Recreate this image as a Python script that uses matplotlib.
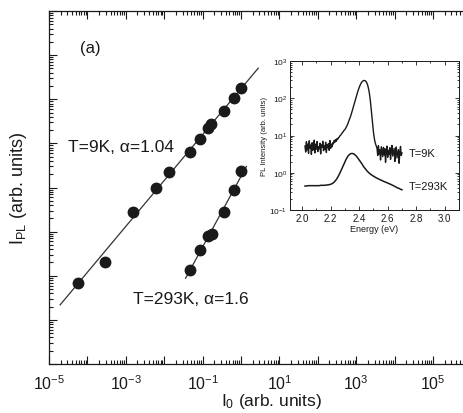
import numpy as np
import matplotlib
matplotlib.use("Agg")
import matplotlib.pyplot as plt
from matplotlib.ticker import FixedLocator, FuncFormatter, LogLocator, NullFormatter, MultipleLocator

plt.rcParams["font.family"] = ["Liberation Sans", "DejaVu Sans"]
plt.rcParams["mathtext.fontset"] = "custom"
plt.rcParams["mathtext.rm"] = "Liberation Sans"
plt.rcParams["mathtext.default"] = "regular"

# excitation power dependence (arb. units)
i0_9k = [5.6e-5, 2.8e-4, 1.5e-3, 6.0e-3, 1.3e-2, 4.6e-2, 8.3e-2, 0.135, 0.17, 0.355, 0.65, 1.02]
ipl_9k = [69, 204, 2.8e3, 1.0e4, 2.2e4, 6.5e4, 1.26e5, 2.24e5, 2.75e5, 5.5e5, 1.07e6, 1.82e6]
i0_293k = [0.046, 0.083, 0.135, 0.18, 0.37, 0.65, 1.02]
ipl_293k = [135, 390, 790, 890, 2.8e3, 8.9e3, 2.4e4]
alpha_9k = 1.04
alpha_293k = 1.6
fit_range_9k = [1.95e-5, 2.8]
fit_range_293k = [0.036, 1.38]

# PL spectra for the inset
e_start_9k, e_step_9k = 2.020, 0.005
spec_9k = [
    5.2, 3.6, 6.8, 4.1, 5.9, 3.3, 7.2, 4.6, 5.5, 3.1,
    6.4, 4.0, 5.1, 7.5, 3.4, 5.8, 4.3, 6.9, 3.7, 5.0,
    4.4, 6.2, 3.2, 5.6, 4.8, 7.0, 3.9, 5.3, 4.2, 6.6,
    3.5, 5.7, 4.7, 6.1, 4.0, 7.3, 4.5, 5.9, 5.0, 6.4,
    6.0, 7.4, 6.6, 7.8, 7.0, 8.3, 7.9, 8.8, 9.0, 9.8,
    10.2, 10.9, 11.5, 12.3, 13.0, 13.9, 14.5, 15.5, 16.8, 18.5,
    20.5, 23, 26, 29, 33, 38, 44, 52, 60, 70,
    81, 95, 112, 130, 150, 172, 195, 218, 240, 260,
    276, 288, 296, 300, 298, 290, 275, 252, 222, 185,
    148, 110, 75, 48, 30, 19, 12.5, 9.0, 7.0, 5.9,
    5.2,
    4.6, 2.9, 5.3, 3.2, 4.1, 2.2, 5.0, 3.6, 2.7, 4.8,
    3.0, 4.4, 1.9, 3.8, 5.2, 2.6, 4.0, 3.1, 4.7, 2.3,
    3.9, 5.4, 2.8, 3.5, 4.5, 2.0, 3.7, 4.9, 2.5, 3.3,
    4.2, 1.8, 3.6, 5.1, 2.9, 3.4,
]
e_start_293k, e_step_293k = 2.02, 0.01
spec_293k = [
    .44, .44, .45, .45, .45, .45, .45, .45, .45, .45,
    .45, .46, .46, .46, .46, .47, .47, .48, .49,
    .51, .54, .59, .66, .76, .90, 1.08, 1.32, 1.6, 1.95,
    2.35, 2.75, 3.05, 3.25, 3.3, 3.25, 3.05, 2.8, 2.5, 2.2,
    1.95, 1.72, 1.48, 1.32, 1.18, 1.07, .98, .91, .86, .81,
    .77, .73, .70, .67, .64, .62, .59, .57, .55, .53,
    .51, .49, .47, .45, .43, .41, .39, .38, .36, .35,
]
e_9k = np.round(e_start_9k + e_step_9k * np.arange(len(spec_9k)), 3)
e_293k = np.round(e_start_293k + e_step_293k * np.arange(len(spec_293k)), 3)

ink = "#1a1a1a"


def power_fit(x, y, alpha, xr):
    # fixed slope in log-log, intercept from the mean of the points
    lx, ly = np.log10(x), np.log10(y)
    b = np.mean(ly) - alpha * np.mean(lx)
    xs = np.array(xr)
    return xs, 10 ** (b + alpha * np.log10(xs))


fig = plt.figure(figsize=(4.64, 4.14), dpi=100)
ax = fig.add_axes([49 / 464, 49 / 414, 422.5 / 464, 353 / 414])

for x, y, a, xr in [(i0_9k, ipl_9k, alpha_9k, fit_range_9k),
                    (i0_293k, ipl_293k, alpha_293k, fit_range_293k)]:
    fx, fy = power_fit(x, y, a, xr)
    ax.plot(fx, fy, color="#333333", lw=0.9, zorder=2)
    ax.plot(x, y, "o", color=ink, ms=7.5, zorder=3)

ax.set_xscale("log")
ax.set_yscale("log")
ax.set_xlim(1e-5, 1e6)
ax.set_ylim(1e0, 1e8)

ax.xaxis.set_major_locator(FixedLocator([10.0 ** k for k in range(-5, 7)]))
ax.xaxis.set_major_formatter(FuncFormatter(
    lambda v, p: rf"$10^{{{int(round(np.log10(v)))}}}$" if int(round(np.log10(v))) % 2 else ""))
ax.xaxis.set_minor_locator(LogLocator(base=10, subs=np.arange(2, 10), numticks=100))
ax.xaxis.set_minor_formatter(NullFormatter())
ax.yaxis.set_major_locator(FixedLocator([10.0 ** k for k in range(0, 9)]))
ax.yaxis.set_minor_locator(LogLocator(base=10, subs=np.arange(2, 10), numticks=100))
ax.yaxis.set_major_formatter(NullFormatter())
ax.yaxis.set_minor_formatter(NullFormatter())
ax.tick_params(which="both", direction="in", top=True, right=True, color=ink, width=0.8)
ax.tick_params(which="major", length=6, labelsize=11.5, pad=7, labelcolor=ink)
ax.tick_params(which="minor", length=3)
for s in ax.spines.values():
    s.set_color(ink)
    s.set_linewidth(0.9)

ax.set_xlabel("I$_0$ (arb. units)", fontsize=12.5, color=ink, labelpad=1)
ax.xaxis.set_label_coords(223 / 422.5, -27 / 353)
ax.set_ylabel("I$_{PL}$ (arb. units)", fontsize=13, color=ink)
ax.yaxis.set_label_coords(-20 / 422.5, 0.5)

ax.text(80 / 464, 1 - 48 / 414, "(a)", transform=fig.transFigure, fontsize=12,
        va="center", ha="left", color=ink)
ax.text(68 / 464, 1 - 148 / 414, f"T=9K, α={alpha_9k}", transform=fig.transFigure,
        fontsize=12.5, va="center", ha="left", color=ink)
ax.text(133 / 464, 1 - 300 / 414, f"T=293K, α={alpha_293k}", transform=fig.transFigure,
        fontsize=12.5, va="center", ha="left", color=ink)

# inset: PL spectra
ins = fig.add_axes([290 / 464, 1 - 211 / 414, 169 / 464, 149 / 414])
ins.plot(e_9k, spec_9k, color=ink, lw=1.0)
ins.plot(e_293k, spec_293k, color=ink, lw=1.1)
ins.set_yscale("log")
ins.set_xlim(1.915, 3.1)
ins.set_ylim(0.1, 1000)
ins.xaxis.set_major_locator(MultipleLocator(0.2))
ins.xaxis.set_minor_locator(MultipleLocator(0.1))
ins.xaxis.set_major_formatter(FuncFormatter(lambda v, p: f"{v:.1f}"))
ins.yaxis.set_major_locator(FixedLocator([0.1, 1, 10, 100, 1000]))
ins.yaxis.set_minor_locator(LogLocator(base=10, subs=np.arange(2, 10), numticks=100))
ins.yaxis.set_minor_formatter(NullFormatter())
ins.tick_params(which="both", direction="in", top=True, right=True, color=ink, width=0.6)
ins.tick_params(which="major", length=3, labelsize=7, pad=2, labelcolor=ink)
ins.tick_params(axis="y", which="major", labelsize=6)
ins.tick_params(which="minor", length=1.5)
for s in ins.spines.values():
    s.set_color(ink)
    s.set_linewidth(0.7)
ins.set_xlabel("Energy (eV)", fontsize=6.5, color=ink, labelpad=1)
ins.set_ylabel("PL Intensity (arb. units)", fontsize=5.5, color=ink, labelpad=1)
ins.text(2.745, 3.3, "T=9K", fontsize=8, va="center", ha="left", color=ink)
ins.text(2.745, 0.45, "T=293K", fontsize=8, va="center", ha="left", color=ink)

fig.savefig("out.png", dpi=100)
